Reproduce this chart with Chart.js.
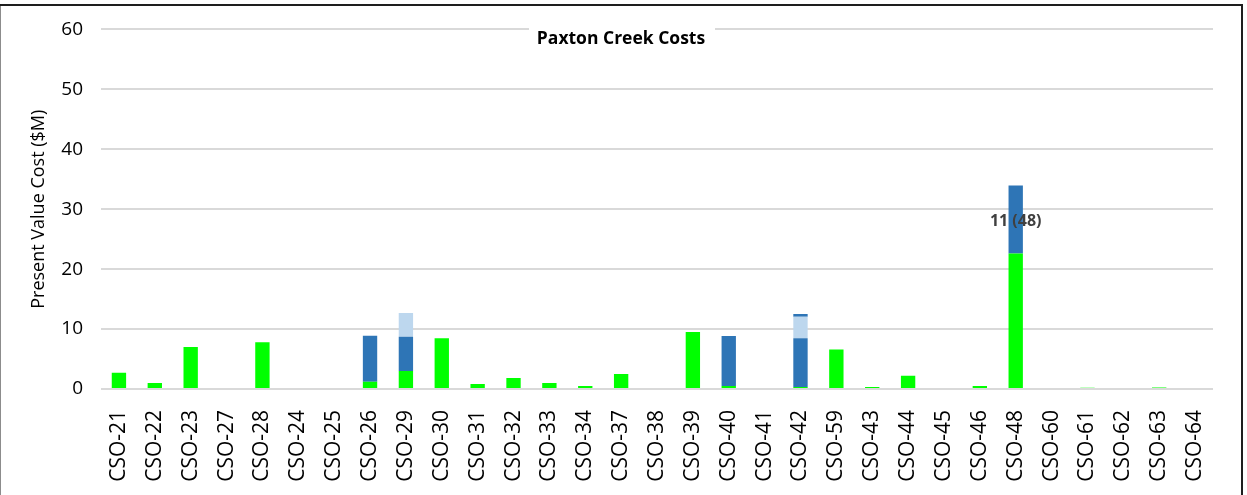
<!DOCTYPE html>
<html>
<head>
<meta charset="utf-8">
<script src="https://cdn.jsdelivr.net/npm/chart.js@4/dist/chart.umd.min.js"></script>
<style>
  body { margin: 0; background: #fff; }
  #wrap { width: 1247px; height: 495px; }
</style>
</head>
<body>
<div id="wrap"><canvas id="chart-paxton" width="1247" height="495"></canvas></div>
<script>
const categories = ['CSO-21', 'CSO-22', 'CSO-23', 'CSO-27', 'CSO-28', 'CSO-24', 'CSO-25', 'CSO-26', 'CSO-29', 'CSO-30',
    'CSO-31', 'CSO-32', 'CSO-33', 'CSO-34', 'CSO-37', 'CSO-38', 'CSO-39', 'CSO-40', 'CSO-41', 'CSO-42',
    'CSO-59', 'CSO-43', 'CSO-44', 'CSO-45', 'CSO-46', 'CSO-48', 'CSO-60', 'CSO-61', 'CSO-62', 'CSO-63', 'CSO-64'];
const greenCost = [2.7, 1.0, 7.0, 0, 7.8, 0, 0, 1.2, 3.0, 8.45,
    0.85, 1.85, 1.0, 0.5, 2.5, 0, 9.5, 0.5, 0, 0.35,
    6.6, 0.35, 2.2, 0, 0.5, 22.6, 0, 0.2, 0, 0.25, 0];
const blueCost = [0, 0, 0, 0, 0, 0, 0, 7.7, 5.7, 0,
    0, 0, 0, 0, 0, 0, 0, 8.35, 0, 8.1,
    0, 0, 0, 0, 0, 11.35, 0, 0, 0, 0, 0];
const lightBlueCost = [0, 0, 0, 0, 0, 0, 0, 0, 4.0, 0,
    0, 0, 0, 0, 0, 0, 0, 0, 0, 3.6,
    0, 0, 0, 0, 0, 0, 0, 0, 0, 0, 0];
const topBlueCost = [0, 0, 0, 0, 0, 0, 0, 0, 0, 0,
    0, 0, 0, 0, 0, 0, 0, 0, 0, 0.45,
    0, 0, 0, 0, 0, 0, 0, 0, 0, 0, 0];
const blueNotes = { 'CSO-48': '11 (48)' };
const yTicks = [0, 10, 20, 30, 40, 50, 60];
const chartTitle = 'Paxton Creek Costs';
const yTitle = 'Present Value Cost ($M)';

const FONT = "'Open Sans', 'DejaVu Sans', sans-serif";

// frame round the chart + the title box that sits on the top gridline
const framePlugin = {
    id: 'frame',
    afterDraw(chart) {
        const c = chart.ctx;
        c.save();
        c.fillStyle = '#ffffff';
        c.fillRect(529, 16, 186, 36);
        c.fillStyle = '#000000';
        c.font = "bold 17.5px " + FONT;
        c.textAlign = 'center';
        c.textBaseline = 'middle';
        c.fillText(chartTitle, 621, 39);

        c.strokeStyle = '#8c8c8c';
        c.lineWidth = 1;
        c.beginPath();
        c.moveTo(0.5, 5); c.lineTo(0.5, 495);
        c.stroke();
        c.strokeStyle = '#1e1e1e';
        c.lineWidth = 2;
        c.beginPath();
        c.moveTo(0, 5); c.lineTo(1243, 5);
        c.moveTo(1242, 4); c.lineTo(1242, 495);
        c.stroke();
        c.restore();
    }
};

// value note drawn in the middle of the blue part of a bar
const notePlugin = {
    id: 'notes',
    afterDatasetsDraw(chart) {
        const c = chart.ctx;
        const meta = chart.getDatasetMeta(1);
        c.save();
        c.fillStyle = '#404040';
        c.font = "bold 16px " + FONT;
        c.textAlign = 'center';
        c.textBaseline = 'middle';
        categories.forEach((cat, i) => {
            if (!blueNotes[cat]) return;
            const bar = meta.data[i];
            c.fillText(blueNotes[cat], bar.x, (bar.y + bar.base) / 2 + 2);
        });
        c.restore();
    }
};

const ctx = document.getElementById('chart-paxton').getContext('2d');
const myChartPaxton = new Chart(ctx, {
    type: 'bar',
    data: {
        labels: categories,
        datasets: [
            { label: 'Series 1', data: greenCost, backgroundColor: '#00ff00', borderWidth: 0 },
            { label: 'Series 2', data: blueCost, backgroundColor: '#2e75b6', borderWidth: 0 },
            { label: 'Series 3', data: lightBlueCost, backgroundColor: '#bdd7ee', borderWidth: 0 },
            { label: 'Series 4', data: topBlueCost, backgroundColor: '#2e75b6', borderWidth: 0 }
        ]
    },
    options: {
        responsive: false,
        devicePixelRatio: 1,
        animation: false,
        categoryPercentage: 1,
        barPercentage: 0.4,
        layout: { padding: { top: 29, right: 34, left: 0, bottom: 0 } },
        plugins: {
            legend: { display: false },
            title: { display: false },
            tooltip: { enabled: false }
        },
        scales: {
            x: {
                stacked: true,
                grid: { display: false },
                border: { display: false },
                ticks: {
                    minRotation: 90,
                    maxRotation: 90,
                    autoSkip: false,
                    padding: 13,
                    color: '#000000',
                    font: { family: FONT, size: 21 }
                },
                afterFit(scale) { scale.height = 106; }
            },
            y: {
                stacked: true,
                min: 0,
                max: 60,
                afterBuildTicks(scale) { scale.ticks = yTicks.map(v => ({ value: v })); },
                grid: { color: '#d9d9d9', lineWidth: 2, drawTicks: false },
                border: { display: false },
                ticks: {
                    padding: 18,
                    color: '#000000',
                    font: { family: FONT, size: 19 }
                },
                title: {
                    display: true,
                    text: yTitle,
                    color: '#000000',
                    font: { family: FONT, size: 18 },
                    padding: { top: 28, bottom: 0 }
                },
                afterFit(scale) { scale.width = 101; }
            }
        }
    },
    plugins: [notePlugin, framePlugin]
});
</script>
</body>
</html>
